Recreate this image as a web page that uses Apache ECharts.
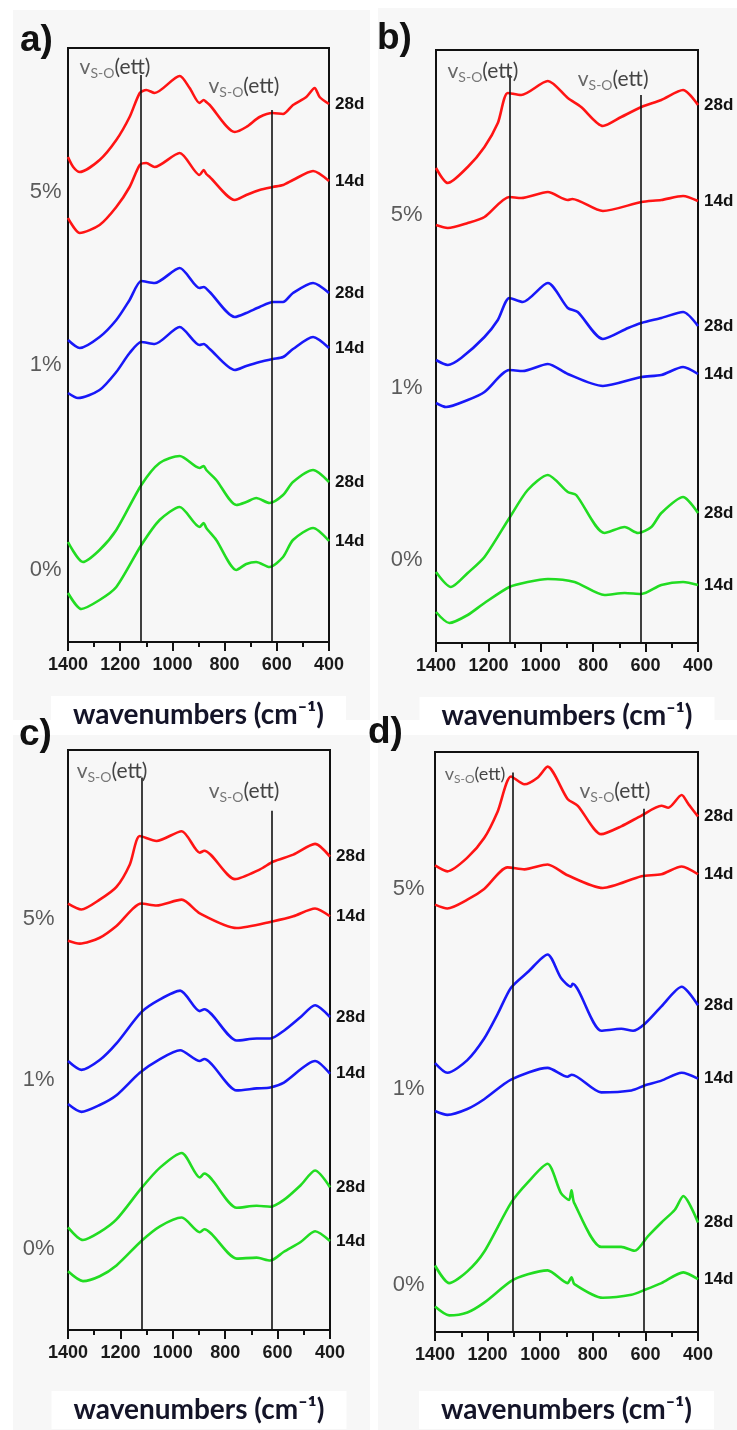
<!DOCTYPE html>
<html><head><meta charset="utf-8">
<script src="https://cdn.jsdelivr.net/npm/echarts/dist/echarts.min.js"></script>
<style>html,body{margin:0;padding:0;background:#fff}#c{width:737px;height:1430px}</style>
</head><body><div id="c"></div><script>
// ---- data (wavenumber cm-1, relative absorbance in arbitrary units) ----
const X_TICKS = [1400, 1200, 1000, 800, 600, 400];
const PANEL_LETTERS = ['a)', 'b)', 'c)', 'd)'];
const AGE_LABELS = ['28d', '14d', '28d', '14d', '28d', '14d'];
const GROUP_LABELS = ['5%', '1%', '0%'];
const PEAK_TEXT = 'S-O';

const A_RED_28 = [[1400,485],[1380,475],[1355,470],[1279,482],[1215,502],[1164,525],[1125,549],[1100,552],[1068,549],[972,566],[934,554],[896,539],[880,542],[870,540],[857,537],[761,510],[717,515],[666,525],[615,529],[576,528],[538,537],[487,545],[455,554],[436,545],[400,538]];
const A_RED_14 = [[1400,424],[1355,409],[1279,417],[1215,435],[1164,455],[1125,477],[1100,479],[1068,475],[972,489],[896,467],[880,472],[870,468],[857,465],[761,442],[717,447],[666,452],[615,455],[576,457],[538,462],[461,471],[400,461]];
const A_BLUE_28 = [[1400,302],[1355,294],[1279,305],[1215,322],[1164,342],[1119,361],[1068,359],[972,374],[896,354],[880,355],[857,350],[761,325],[717,329],[666,335],[615,340],[576,340],[538,349],[461,359],[400,349]];
const A_BLUE_14 = [[1400,249],[1362,244],[1279,252],[1215,270],[1164,289],[1119,300],[1068,298],[972,315],[896,297],[880,298],[857,293],[761,272],[717,276],[666,280],[615,283],[576,285],[538,293],[461,305],[400,294]];
const A_GREEN_28 = [[1400,100],[1343,80],[1279,92],[1215,112],[1119,157],[1049,179],[972,186],[896,174],[880,176],[870,172],[832,162],[755,137],[717,140],[679,144],[628,139],[576,147],[538,160],[461,172],[400,160]];
const A_GREEN_14 = [[1400,49],[1349,33],[1279,42],[1215,55],[1119,97],[1049,122],[972,135],[896,115],[880,119],[870,114],[832,102],[755,72],[717,78],[679,80],[628,75],[576,85],[538,102],[461,114],[400,101]];

const B_RED_28 = [[1400,475],[1355,460],[1279,476],[1215,496],[1164,520],[1126,550],[1075,548],[973,562],[897,545],[846,536],[763,517],[693,526],[616,536],[540,543],[457,553],[400,538]];
const B_RED_14 = [[1400,418],[1355,415],[1279,420],[1215,426],[1120,446],[1075,445],[973,451],[897,443],[880,444],[763,432],[616,441],[540,443],[457,447],[400,442]];
const B_BLUE_28 = [[1400,283],[1355,278],[1304,285],[1215,306],[1164,323],[1120,345],[1069,341],[973,360],[897,335],[859,331],[763,304],[667,315],[616,320],[540,325],[457,331],[400,317]];
const B_BLUE_14 = [[1400,240],[1362,236],[1279,243],[1215,251],[1120,273],[1069,272],[973,279],[897,269],[763,257],[616,266],[540,268],[457,276],[400,269]];
const B_GREEN_28 = [[1400,71],[1343,56],[1279,70],[1215,86],[1120,125],[1050,153],[973,168],[897,151],[865,148],[757,110],[680,116],[629,110],[578,116],[540,130],[457,146],[400,130]];
const B_GREEN_14 = [[1400,31],[1349,20],[1279,28],[1215,40],[1120,56],[1050,61],[973,64],[871,61],[757,48],[680,50],[616,49],[540,58],[457,61],[400,58]];

const C_RED_28 = [[1400,436],[1349,430],[1279,440],[1215,453],[1164,476],[1126,505],[1062,500],[966,510],[897,488],[880,490],[763,461],[667,471],[616,479],[540,486],[457,497],[400,484]];
const C_RED_14 = [[1400,398],[1355,395],[1279,401],[1215,413],[1120,436],[1062,434],[966,440],[897,426],[756,411],[616,418],[540,423],[457,431],[400,423]];
const C_BLUE_28 = [[1400,275],[1349,266],[1279,276],[1215,293],[1120,325],[1049,338],[972,347],[897,326],[880,328],[756,296],[680,298],[628,298],[576,306],[512,320],[457,332],[400,320]];
const C_BLUE_14 = [[1400,231],[1349,223],[1279,230],[1215,240],[1126,263],[1049,277],[972,286],[897,275],[880,277],[756,245],[680,247],[628,248],[576,253],[457,275],[400,262]];
const C_GREEN_28 = [[1400,105],[1343,92],[1279,100],[1215,113],[1120,145],[1049,166],[966,181],[897,156],[880,160],[756,125],[680,127],[628,126],[576,133],[512,148],[457,163],[400,146]];
const C_GREEN_14 = [[1400,60],[1343,50],[1279,55],[1215,66],[1120,91],[1049,106],[966,115],[897,100],[880,103],[756,73],[680,74],[628,71],[576,80],[512,90],[457,101],[400,91]];

const D_RED_28 = [[1400,477],[1353,471],[1277,485],[1213,505],[1162,532],[1111,568],[1060,560],[1009,567],[972,578],[896,545],[857,538],[768,509],[692,517],[615,528],[539,538],[513,536],[462,549],[437,540],[400,527]];
const D_RED_14 = [[1400,437],[1353,433],[1277,442],[1213,453],[1124,475],[1060,473],[972,478],[896,467],[762,454],[615,466],[539,468],[462,476],[400,468]];
const D_BLUE_28 = [[1400,275],[1353,265],[1277,278],[1213,300],[1162,325],[1111,352],[1047,368],[972,386],[921,362],[883,353],[877,356],[768,308],[692,310],[647,308],[603,315],[539,333],[462,353],[400,334]];
const D_BLUE_14 = [[1400,226],[1353,222],[1277,228],[1213,238],[1111,258],[972,270],[896,261],[880,263],[768,245],[653,247],[603,252],[539,257],[462,265],[400,259]];
const D_GREEN_28 = [[1400,68],[1346,50],[1277,62],[1213,82],[1111,132],[1047,153],[972,172],[921,142],[890,135],[881,145],[871,132],[768,87],[692,87],[641,83],[590,98],[539,112],[488,125],[456,139],[400,112]];
const D_GREEN_14 = [[1400,26],[1346,17],[1277,20],[1213,30],[1111,52],[1047,59],[972,63],[896,50],[881,56],[870,49],[762,35],[653,38],[603,43],[539,50],[456,61],[400,54]];

// group (concentration) label levels, band marker wavenumbers, band marker tops, band label anchors
const A_GROUP_Y = [450, 277, 72];
const B_GROUP_Y = [428, 255, 83];
const C_GROUP_Y = [420, 256, 83];
const D_GROUP_Y = [453, 248, 48];
const A_BANDS = [1120, 620], A_BAND_TOP = [567, 532], A_BAND_LABEL = [[1220, 575], [726, 556]];
const B_BANDS = [1120, 617], B_BAND_TOP = [568, 548], B_BAND_LABEL = [[1221, 572], [724, 564]];
const C_BANDS = [1120, 621], C_BAND_TOP = [565, 531], C_BAND_LABEL = [[1232, 571], [728, 551]];
const D_BANDS = [1104, 605], D_BAND_TOP = [572, 535], D_BAND_LABEL = [[1248, 570], [716, 553]];

// ---- layout ----
const COLORS = ['#ff1414', '#ff1414', '#1818f8', '#1818f8', '#22dc22', '#22dc22'];
const FONT = 'Liberation Sans';
const PANELS = [
  {series: [A_RED_28, A_RED_14, A_BLUE_28, A_BLUE_14, A_GREEN_28, A_GREEN_14], groupY: A_GROUP_Y, bands: A_BANDS, tops: A_BAND_TOP, bl: A_BAND_LABEL,
   grid: {left: 68, top: 48, width: 261, height: 594}, gap: 6, nameGap: 54, bandFont: [21, 21]},
  {series: [B_RED_28, B_RED_14, B_BLUE_28, B_BLUE_14, B_GREEN_28, B_GREEN_14], groupY: B_GROUP_Y, bands: B_BANDS, tops: B_BAND_TOP, bl: B_BAND_LABEL,
   grid: {left: 436, top: 50, width: 262, height: 593}, gap: 13, nameGap: 54, bandFont: [21, 21]},
  {series: [C_RED_28, C_RED_14, C_BLUE_28, C_BLUE_14, C_GREEN_28, C_GREEN_14], groupY: C_GROUP_Y, bands: C_BANDS, tops: C_BAND_TOP, bl: C_BAND_LABEL,
   grid: {left: 68, top: 750, width: 262, height: 593}, gap: 13, nameGap: 61, bandFont: [21, 21]},
  {series: [D_RED_28, D_RED_14, D_BLUE_28, D_BLUE_14, D_GREEN_28, D_GREEN_14], groupY: D_GROUP_Y, bands: D_BANDS, tops: D_BAND_TOP, bl: D_BAND_LABEL,
   grid: {left: 435, top: 752, width: 263, height: 593}, gap: 10, nameGap: 59, bandFont: [18, 21]}
];
const LETTER_POS = [[20, 22], [377, 20], [19, 716], [368, 714]];

function bandRich(fs) {
  return {
    v: {fontSize: fs, color: '#666', fontFamily: 'Lato'},
    s: {fontSize: Math.round(fs * 0.68), color: '#777', fontFamily: 'Lato', padding: [Math.round(fs * 0.55), 0, 0, 0]},
    e: {fontSize: fs, color: '#444', fontFamily: 'Lato'}
  };
}

const grids = [], xAxes = [], yAxes = [], series = [];
PANELS.forEach((p, i) => {
  grids.push(Object.assign({show: true, borderColor: '#111', borderWidth: 2, backgroundColor: 'transparent'}, p.grid));
  xAxes.push({
    gridIndex: i, type: 'value', min: 400, max: 1400, interval: 200, inverse: true,
    axisLine: {show: true, onZero: false, lineStyle: {color: '#111', width: 2}},
    axisTick: {show: true, length: 9, lineStyle: {color: '#111', width: 2}},
    minorTick: {show: true, splitNumber: 2, length: 5, lineStyle: {color: '#111', width: 2}},
    splitLine: {show: false},
    axisLabel: {color: '#1a1a1a', fontSize: 18, fontWeight: 'bold', fontFamily: FONT, margin: 14,
      formatter: v => X_TICKS.includes(v) ? String(v) : ''},
    name: 'wavenumbers (cm\u207B\u00B9)', nameLocation: 'middle', nameGap: p.nameGap,
    nameTextStyle: {color: '#141428', fontSize: 28, fontWeight: 'bold', fontFamily: 'Lato',
      backgroundColor: '#ffffff', padding: [5, 22, 5, 22]}
  });
  yAxes.push({gridIndex: i, type: 'value', min: 0, max: p.grid.height, show: false});
  p.series.forEach((d, k) => {
    series.push({
      type: 'line', xAxisIndex: i, yAxisIndex: i, data: d, smooth: 0.25, symbol: 'none',
      lineStyle: {color: COLORS[k], width: 2.6}, itemStyle: {color: COLORS[k]},
      endLabel: {show: true, formatter: AGE_LABELS[k], align: 'left', distance: -6, color: '#111', fontSize: 17,
        fontWeight: 'bold', fontFamily: FONT}
    });
  });
  // concentration labels + band markers
  series.push({
    type: 'scatter', xAxisIndex: i, yAxisIndex: i, symbolSize: 1, itemStyle: {color: 'rgba(0,0,0,0)'},
    data: p.groupY.map(y => [1400, y]),
    label: {show: true, position: 'left', distance: p.gap, color: '#333', fontSize: 22, fontFamily: FONT,
      formatter: o => GROUP_LABELS[o.dataIndex]},
    markLine: {silent: true, symbol: ['none', 'none'], label: {show: false},
      lineStyle: {color: '#111', width: 1.6, type: 'solid'},
      data: p.bands.map((b, j) => [{coord: [b, p.tops[j]]}, {coord: [b, 0]}])},
    markPoint: {silent: true, symbol: 'rect', symbolSize: 1, itemStyle: {color: 'rgba(0,0,0,0)'},
      data: p.bl.map((c, j) => ({coord: c, label: {show: true, position: 'inside',
        formatter: '{v|v}{s|' + PEAK_TEXT + '}{e|(ett)}', rich: bandRich(p.bandFont[j])}}))}
  });
});

const graphic = [
  {type: 'rect', z: -10, shape: {x: 13, y: 10, width: 357, height: 710}, style: {fill: '#f7f7f7'}},
  {type: 'rect', z: -10, shape: {x: 378, y: 8, width: 359, height: 712}, style: {fill: '#f7f7f7'}},
  {type: 'rect', z: -10, shape: {x: 13, y: 735, width: 357, height: 695}, style: {fill: '#f7f7f7'}},
  {type: 'rect', z: -10, shape: {x: 378, y: 735, width: 359, height: 695}, style: {fill: '#f7f7f7'}}
];
PANEL_LETTERS.forEach((t, i) => graphic.push({type: 'text', z: 10, left: LETTER_POS[i][0], top: LETTER_POS[i][1],
  style: {text: t, fill: '#111', font: 'bold 37px "Liberation Sans"'}}));

const chart = echarts.init(document.getElementById('c'), null, {renderer: 'canvas'});
chart.setOption({animation: false, backgroundColor: '#ffffff', grid: grids, xAxis: xAxes, yAxis: yAxes, series, graphic});
</script></body></html>
